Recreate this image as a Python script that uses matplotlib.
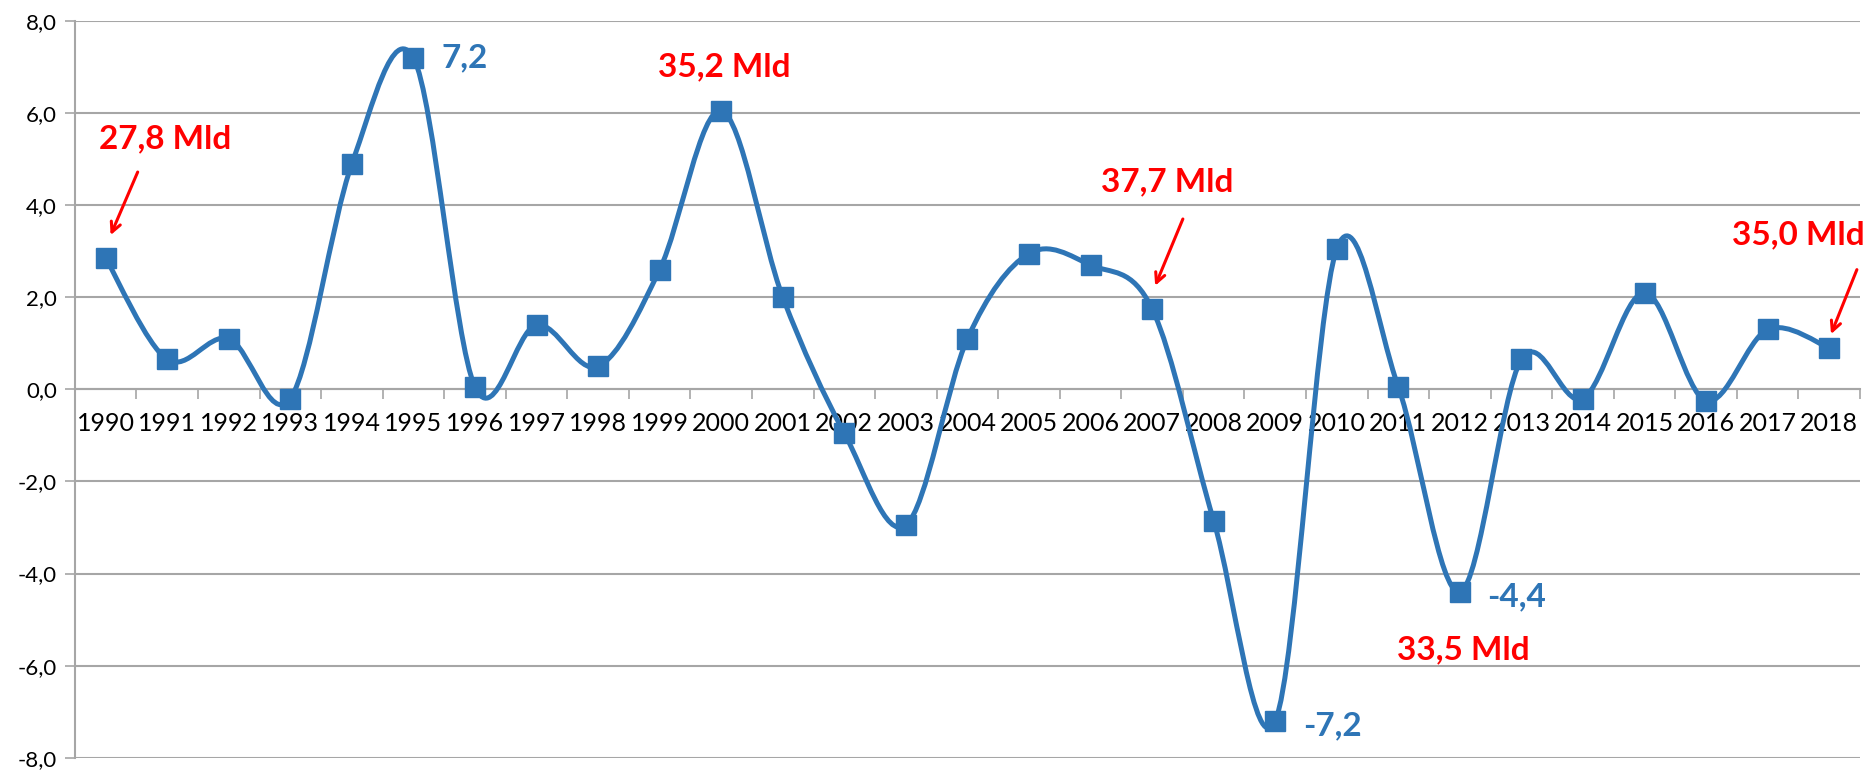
import numpy as np
import matplotlib
matplotlib.use("Agg")
import matplotlib.pyplot as plt
from matplotlib.path import Path
from matplotlib.patches import PathPatch

years = ["1990", "1991", "1992", "1993", "1994", "1995", "1996", "1997", "1998", "1999",
         "2000", "2001", "2002", "2003", "2004", "2005", "2006", "2007", "2008", "2009",
         "2010", "2011", "2012", "2013", "2014", "2015", "2016", "2017", "2018"]
values = [2.85, 0.65, 1.1, -0.2, 4.9, 7.2, 0.05, 1.4, 0.5, 2.6,
          6.05, 2.0, -0.95, -2.95, 1.1, 2.95, 2.7, 1.75, -2.85, -7.2,
          3.05, 0.05, -4.4, 0.65, -0.2, 2.1, -0.25, 1.3, 0.9]
yticks = [-8, -6, -4, -2, 0, 2, 4, 6, 8]

# red "Mld" notes and the blue value labels
mld_years = ["1990", "2000", "2007", "2012", "2018"]
mld_labels = ["27,8 Mld", "35,2 Mld", "37,7 Mld", "33,5 Mld", "35,0 Mld"]
val_years = ["1995", "2009", "2012"]
val_labels = ["7,2", "-7,2", "-4,4"]

BLUE = "#2E75B6"
GRID = "#A6A6A6"
plt.rcParams["font.family"] = ["Lato", "DejaVu Sans"]


def smooth_path(x, y):
    # excel-like smoothed line: catmull-rom turned into cubic bezier pieces
    pts = np.column_stack([x, y]).astype(float)
    ext = np.vstack([pts[0], pts, pts[-1]])
    verts = [pts[0]]
    codes = [Path.MOVETO]
    for i in range(len(pts) - 1):
        p0, p1, p2, p3 = ext[i], ext[i + 1], ext[i + 2], ext[i + 3]
        c1 = p1 + (p2 - p0) / 6.0
        c2 = p2 - (p3 - p1) / 6.0
        verts += [c1, c2, p2]
        codes += [Path.CURVE4] * 3
    return Path(verts, codes)


fig = plt.figure(figsize=(18.68, 7.70), dpi=100)
ax = fig.add_axes([0.0401, 0.016, 0.9556, 0.9567])

x = np.arange(len(years))
ax.add_patch(PathPatch(smooth_path(x, values), fill=False, edgecolor=BLUE, lw=3.6,
                       zorder=3, capstyle="round", joinstyle="round"))
ax.plot(x, values, ls="none", marker="s", ms=14, color=BLUE, zorder=4, clip_on=False)

ax.set_xlim(-0.5, len(years) - 0.5)
ax.set_ylim(-8, 8)
ax.set_yticks(yticks)
ax.set_yticklabels([f"{v:.1f}".replace(".", ",") for v in yticks])
ax.set_xticks(x)
ax.set_xticklabels(years)
ax.set_xticks(np.arange(len(years) + 1) - 0.5, minor=True)
ax.tick_params(axis="x", which="major", length=0, pad=16, labelsize=18)
ax.tick_params(axis="x", which="minor", length=7, width=1.2, color=GRID, direction="out")
ax.tick_params(axis="y", length=7, width=1.2, color=GRID, pad=6, labelsize=16)
ax.grid(axis="y", color=GRID, lw=1.5)
ax.set_axisbelow(True)

for s in ["top", "right"]:
    ax.spines[s].set_visible(False)
ax.spines["bottom"].set_position(("data", 0))
ax.spines["bottom"].set_color(GRID)
ax.spines["bottom"].set_linewidth(1.5)
ax.spines["left"].set_color(GRID)
ax.spines["left"].set_linewidth(1.5)

idx = {y: i for i, y in enumerate(years)}

# blue value labels to the right of the marker
for yr, lab in zip(val_years, val_labels):
    i = idx[yr]
    ax.text(i + 0.45, values[i] - (0.1 if values[i] < 0 else 0), lab, color=BLUE,
            fontsize=24, fontweight="bold", va="center", ha="left")

# red notes: text position and arrow (tail, head) per note
note_pos = {"1990": (0.96, 5.45), "2000": (10.05, 7.0), "2007": (17.25, 4.5),
            "2012": (22.05, -5.65), "2018": (27.5, 3.35)}
arrows = {"1990": ((0.52, 4.72), (0.08, 3.35)),
          "2007": ((17.5, 3.7), (17.05, 2.25)),
          "2018": ((28.45, 2.6), (28.03, 1.2))}
for yr, lab in zip(mld_years, mld_labels):
    px, py = note_pos[yr]
    ax.text(px, py, lab, color="red", fontsize=24, fontweight="bold",
            ha="center", va="center")
    if yr in arrows:
        tail, head = arrows[yr]
        ax.annotate("", xy=head, xytext=tail,
                    arrowprops=dict(arrowstyle="->,head_length=0.7,head_width=0.35",
                                    color="red", lw=2.2, shrinkA=0, shrinkB=0))

fig.savefig("out.png", dpi=100)
